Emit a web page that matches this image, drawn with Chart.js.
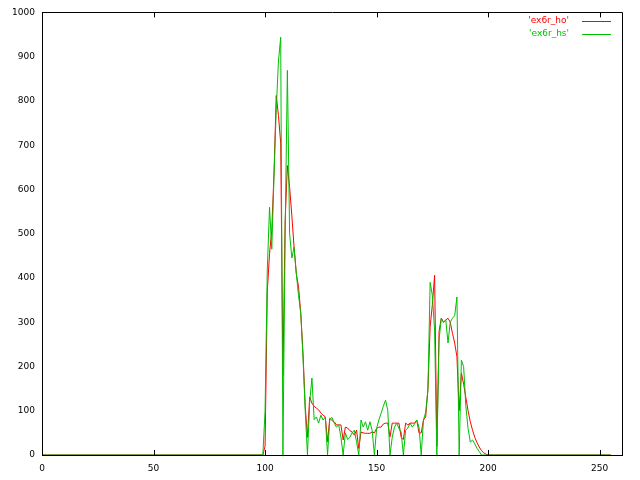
<!DOCTYPE html>
<html>
<head>
<meta charset="utf-8">
<script src="https://cdn.jsdelivr.net/npm/chart.js@4/dist/chart.umd.min.js"></script>
<style>
  html, body { margin: 0; padding: 0; background: #ffffff; }
  #wrap { width: 640px; height: 480px; position: relative; }
</style>
</head>
<body>
<div id="wrap"><canvas id="c" width="640" height="480"></canvas></div>
<script>
// x positions (bin index)
const xValues = [0, 99, 100, 101, 102, 103, 104, 105, 106, 107, 108, 109,
  110, 111, 112, 113, 114, 115, 116, 117, 118, 119,
  120, 121, 122, 123, 124, 125, 126, 127, 128, 129,
  130, 131, 132, 133, 134, 135, 136, 137, 138, 139,
  140, 141, 142, 143, 144, 145, 146, 147, 148, 149,
  150, 151, 152, 153, 154, 155, 156, 157, 158, 159,
  160, 161, 162, 163, 164, 165, 166, 167, 168, 169,
  170, 171, 172, 173, 174, 175, 176, 177, 178, 179,
  180, 181, 182, 183, 184, 185, 186, 187, 188, 189,
  190, 191, 192, 193, 194, 195, 196, 197, 198, 199,
  200, 255];

// 'ex6r_ho'
const hoValues = [0, 0, 20, 370, 455, 508, 636, 812, 767, 705, 180, 530,
  654, 605, 540, 470, 410, 380, 320, 230, 110, 40,
  131, 117, 110, 106, 102, 95, 90, 86, 30, 83,
  78, 75, 68, 68, 68, 34, 63, 61, 55, 52,
  45, 56, 15, 52, 50, 49, 49, 49, 52, 50,
  60, 63, 63, 70, 72, 72, 41, 72, 72, 72,
  72, 40, 35, 72, 68, 72, 72, 72, 79, 50,
  50, 79, 86, 150, 290, 340, 406, 20, 280, 309,
  300, 305, 309, 300, 275, 253, 222, 100, 185, 160,
  130, 100, 75, 56, 40, 28, 18, 10, 5, 2,
  0, 0];

// 'ex6r_hs'
const hsValues = [0, 0, 100, 420, 560, 465, 630, 780, 890, 944, 0, 500,
  869, 500, 445, 470, 410, 360, 320, 220, 100, 0,
  120, 174, 80, 86, 72, 90, 79, 86, 0, 80,
  85, 72, 63, 68, 40, 0, 50, 35, 40, 50,
  56, 30, 0, 79, 63, 75, 56, 75, 56, 0,
  60, 79, 94, 110, 124, 101, 0, 40, 63, 72,
  60, 52, 0, 56, 61, 72, 63, 70, 79, 63,
  0, 79, 97, 147, 390, 360, 280, 0, 260, 309,
  300, 305, 253, 300, 309, 315, 357, 0, 214, 200,
  110, 60, 29, 34, 25, 15, 8, 0, 0, 0,
  0, 0];

const seriesNames = ["'ex6r_ho'", "'ex6r_hs'"];
const seriesColors = ['#ff0000', '#00c000'];

const xTickValues = [0, 50, 100, 150, 200, 250];
const yTickValues = [0, 100, 200, 300, 400, 500, 600, 700, 800, 900, 1000];

const FONT = '"DejaVu Sans", sans-serif';

function toPoints(vals) {
  return xValues.map((x, i) => ({ x: x, y: vals[i] }));
}

const framePlugin = {
  id: 'frame',
  afterDraw(chart) {
    const ctx = chart.ctx;
    const a = chart.chartArea;
    const xs = chart.scales.x;
    ctx.save();
    ctx.strokeStyle = '#000000';
    ctx.lineWidth = 1;
    ctx.beginPath();
    ctx.rect(Math.round(a.left) + 0.5, Math.round(a.top) + 0.5,
             Math.round(a.right - a.left), Math.round(a.bottom - a.top));
    ctx.stroke();
    // x ticks, inward, bottom and top
    const tl = 5;
    ctx.beginPath();
    xTickValues.forEach(v => {
      const px = Math.round(xs.getPixelForValue(v)) + 0.5;
      ctx.moveTo(px, a.bottom); ctx.lineTo(px, a.bottom - tl);
      ctx.moveTo(px, a.top); ctx.lineTo(px, a.top + tl);
    });
    ctx.stroke();
    ctx.restore();
    // legend
    const rows = [21, 34];
    seriesNames.forEach((name, i) => {
      ctx.save();
      ctx.font = '9px ' + FONT;
      ctx.textAlign = 'right';
      ctx.textBaseline = 'middle';
      ctx.fillStyle = seriesColors[i];
      ctx.fillText(name, 569, rows[i]);
      ctx.fillRect(582, rows[i], 29, 1);
      ctx.restore();
    });
  }
};

new Chart(document.getElementById('c'), {
  type: 'line',
  data: {
    datasets: [
      {
        label: seriesNames[0],
        data: toPoints(hoValues),
        borderColor: seriesColors[0],
        borderWidth: 1,
        pointRadius: 0,
        tension: 0,
        fill: false,
        order: 2
      },
      {
        label: seriesNames[1],
        data: toPoints(hsValues),
        borderColor: seriesColors[1],
        borderWidth: 1,
        pointRadius: 0,
        tension: 0,
        fill: false,
        order: 1
      }
    ]
  },
  options: {
    responsive: false,
    animation: false,
    events: [],
    layout: { padding: { top: 12, right: 18, left: 0, bottom: 0 } },
    plugins: { legend: { display: false }, tooltip: { enabled: false } },
    scales: {
      x: {
        type: 'linear',
        min: 0,
        max: 260,
        afterFit(scale) { scale.height = 25; },
        afterBuildTicks(scale) { scale.ticks = xTickValues.map(v => ({ value: v })); },
        grid: { display: false, drawTicks: false },
        border: { display: true, color: '#000000', width: 1 },
        ticks: { color: '#000000', font: { family: FONT, size: 9 }, padding: 8, maxRotation: 0,
                 callback: v => String(v) }
      },
      y: {
        type: 'linear',
        min: 0,
        max: 1000,
        afterFit(scale) { scale.width = 42; },
        afterBuildTicks(scale) { scale.ticks = yTickValues.map(v => ({ value: v })); },
        grid: { display: false, drawTicks: false },
        border: { display: true, color: '#000000', width: 1 },
        ticks: { color: '#000000', font: { family: FONT, size: 9 }, padding: 7,
                 callback: v => String(v) }
      }
    }
  },
  plugins: [framePlugin]
});
</script>
</body>
</html>
